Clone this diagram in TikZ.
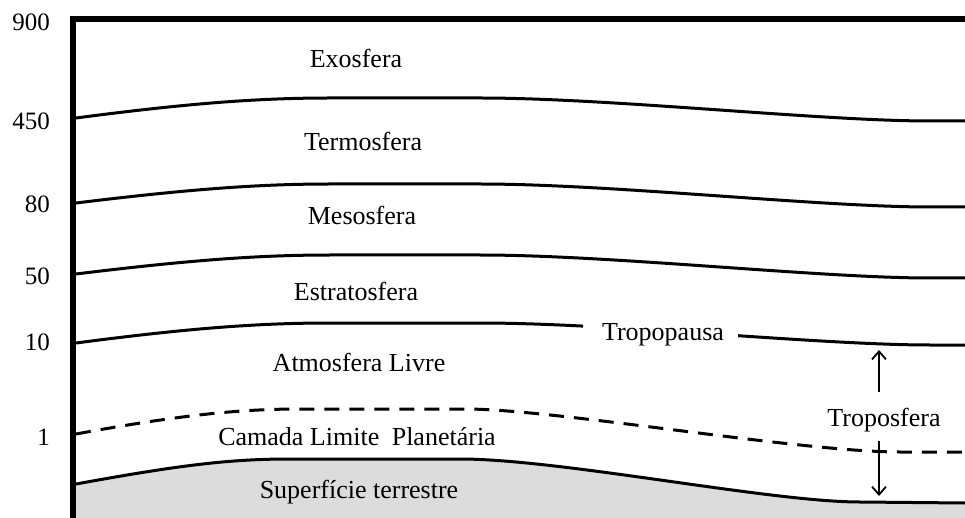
\documentclass[tikz,border=0pt]{standalone}
\usepackage{fontspec}
\setmainfont{Liberation Serif}
\usetikzlibrary{arrows.meta}
\definecolor{groundgray}{HTML}{DCDCDC}
\tikzset{
  lbl/.style={font=\fontsize{26}{31}\selectfont, inner sep=0pt, anchor=base},
  axlbl/.style={font=\fontsize{25}{30}\selectfont, inner sep=0pt, anchor=east},
  layer/.style={line width=3pt, line join=round},
  frame/.style={line width=6.5pt, line join=miter},
  arr/.style={line width=1.8pt, -{Straight Barb[length=8pt,width=14pt,line width=1.8pt]}},
}
\newcommand\layerpath[3]{(76,#1) .. controls (190,{#2+5}) and (260,#2) .. (330,#2) -- (480,#2) .. controls (610,#2) and (820,#3) .. (930,#3) -- (965,#3)}
\newcommand\groundpath{(76,484) .. controls (180,{459+6}) and (230,459) .. (290,459) -- (460,459) .. controls (560,459) and (770,502) .. (860,502) -- (965,503)}
\begin{document}
\begin{tikzpicture}[x=1pt,y=-1pt]
\useasboundingbox (0,0) rectangle (965,518);
% ground
\fill[groundgray] \groundpath -- (965,518) -- (76,518) -- cycle;
\draw[layer] \groundpath;
% boundary layer (dashed)
\draw[layer, dash pattern=on 15pt off 10pt] (76,434) .. controls (180,{409+6}) and (240,409) .. (300,409) -- (465,409) .. controls (555,409) and (800,452) .. (900,452) -- (965,452);
% layer boundaries
\draw[layer] \layerpath{118}{98}{121};
\draw[layer] \layerpath{203}{184}{207};
\draw[layer] \layerpath{274}{255}{278};
\begin{scope}
  \clip (0,0) rectangle (583,518) (738,0) rectangle (965,518);
  \draw[layer] \layerpath{343}{323}{345};
\end{scope}
% frame
\draw[frame] (73,518) -- (73,19) -- (965,19);
% axis labels
\node[axlbl] (a900) at (50,22) {900};
\node[axlbl] (a450) at (50,121) {450};
\node[axlbl] (a80) at (50,204) {80};
\node[axlbl] (a50) at (50,276) {50};
\node[axlbl] (a10) at (50,342) {10};
\node[axlbl] (a1) at (50,437) {1};
% layer names
\node[lbl] (exo) at (356,68) {Exosfera};
\node[lbl] (termo) at (363,151) {Termosfera};
\node[lbl] (meso) at (362,225) {Mesosfera};
\node[lbl] (estrato) at (356,300) {Estratosfera};
\node[lbl] (livre) at (359,371) {Atmosfera Livre};
\node[lbl] (cbl) at (357,445) {Camada Limite\hspace{6pt} Planetária};
\node[lbl] (sup) at (359,498) {Superfície terrestre};
\node[lbl] (tropopausa) at (663,340) {Tropopausa};
\node[lbl] (troposfera) at (884,426) {Troposfera};
% troposphere arrows
\coordinate (tup) at (879,392);
\coordinate (tupend) at (879,350);
\coordinate (tdown) at (879,441);
\coordinate (tdownend) at (879,496);
\draw[arr] (tup) -- (tupend);
\draw[arr] (tdown) -- (tdownend);
\end{tikzpicture}
\end{document}
